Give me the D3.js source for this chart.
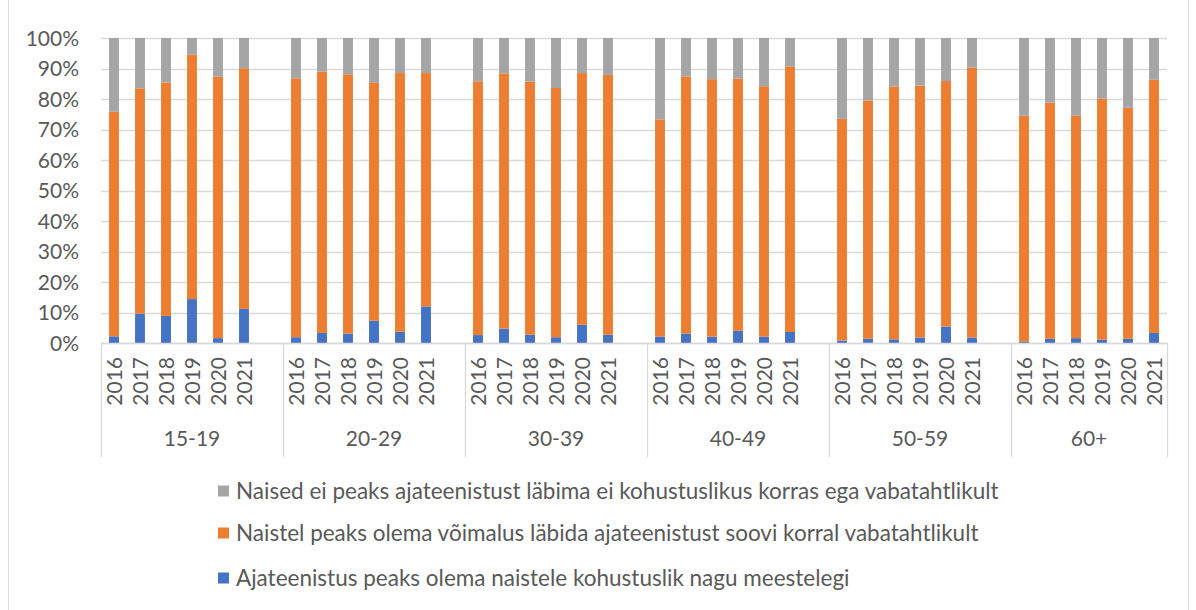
<!DOCTYPE html>
<html>
<head>
    <meta charset="utf-8">
    <script src="https://cdnjs.cloudflare.com/ajax/libs/d3/7.8.5/d3.min.js"></script>
    <style>
        body { margin: 0; background: #fff; }
        text { font-family: Lato, "Open Sans", sans-serif; fill: #595959; }
    </style>
</head>
<body>
    <div id="chart"></div>
    <script>
        // age groups and survey years
        const groups = ["15-19", "20-29", "30-39", "40-49", "50-59", "60+"];
        const years = ["2016", "2017", "2018", "2019", "2020", "2021"];
        const yTicks = [0, 0.1, 0.2, 0.3, 0.4, 0.5, 0.6, 0.7, 0.8, 0.9, 1];

        const seriesNames = [
            "Ajateenistus peaks olema naistele kohustuslik nagu meestelegi",
            "Naistel peaks olema võimalus läbida ajateenistust soovi korral vabatahtlikult",
            "Naised ei peaks ajateenistust läbima ei kohustuslikus korras ega vabatahtlikult"
        ];
        const colors = ["#4472C4", "#ED7D31", "#A5A5A5"];

        // % per group, years 2016..2021
        const compulsory = [
            2.2, 9.6, 8.9, 14.4, 1.6, 11.2,
            1.9, 3.3, 3.1, 7.3, 3.7, 12.0,
            2.6, 4.7, 2.7, 1.9, 6.0, 2.7,
            2.1, 3.1, 2.1, 4.0, 2.1, 3.6,
            0.8, 1.4, 1.2, 1.8, 5.4, 1.8,
            0.5, 1.4, 1.6, 1.1, 1.4, 3.3
        ];
        const voluntary = [
            73.6, 73.9, 76.5, 80.2, 85.8, 78.9,
            84.9, 85.7, 85.0, 78.0, 84.8, 76.5,
            83.2, 83.7, 83.0, 81.7, 82.5, 85.2,
            71.2, 84.3, 84.4, 82.7, 82.1, 87.1,
            72.7, 78.1, 82.9, 82.6, 80.5, 88.5,
            74.0, 77.4, 72.9, 79.1, 75.7, 83.0
        ];
        const against = [
            24.2, 16.5, 14.6, 5.4, 12.6, 9.9,
            13.2, 11.0, 11.9, 14.7, 11.5, 11.5,
            14.2, 11.6, 14.3, 16.4, 11.5, 12.1,
            26.7, 12.6, 13.5, 13.3, 15.8, 9.3,
            26.5, 20.5, 15.9, 15.6, 14.1, 9.7,
            25.5, 21.2, 25.5, 19.8, 22.9, 13.7
        ];

        const width = 1196, height = 610;
        const plotLeft = 101, plotRight = 1167, plotTop = 38, plotBottom = 343;

        const svg = d3.select("#chart").append("svg")
            .attr("width", width)
            .attr("height", height);

        // chart frame
        svg.append("rect")
            .attr("x", 8.5).attr("y", -1)
            .attr("width", 1180).attr("height", height + 2)
            .attr("fill", "none").attr("stroke", "#d9d9d9");

        // rows: one per bar, blank slot between groups
        const rows = [];
        const slots = [];
        groups.forEach((g, gi) => {
            years.forEach((yr, yi) => {
                const i = gi * years.length + yi;
                const key = g + "|" + yr;
                slots.push(key);
                rows.push({ key: key, group: g, year: yr, s0: compulsory[i], s1: voluntary[i], s2: against[i] });
            });
            if (gi < groups.length - 1) slots.push("gap" + gi);
        });

        const x = d3.scaleBand()
            .domain(slots)
            .range([plotLeft, plotRight])
            .paddingInner(0.62)
            .paddingOuter(0.31);

        const y = d3.scaleLinear().domain([0, 1]).range([plotBottom, plotTop]);

        // gridlines
        svg.append("g")
            .selectAll("line")
            .data(yTicks)
            .join("line")
            .attr("x1", plotLeft).attr("x2", plotRight)
            .attr("y1", d => Math.round(y(d)) + 0.5)
            .attr("y2", d => Math.round(y(d)) + 0.5)
            .attr("stroke", "#d9d9d9")
            .attr("stroke-width", 1.3);

        // y labels
        svg.append("g")
            .selectAll("text")
            .data(yTicks)
            .join("text")
            .attr("x", 79)
            .attr("y", d => y(d))
            .attr("dy", "0.36em")
            .attr("text-anchor", "end")
            .style("font-size", "21px")
            .text(d3.format(".0%"));

        // stacked bars
        const stack = d3.stack().keys(["s0", "s1", "s2"]);
        const layers = stack(rows);

        svg.append("g")
            .selectAll("g")
            .data(layers)
            .join("g")
            .attr("fill", (d, i) => colors[i])
            .selectAll("rect")
            .data(d => d)
            .join("rect")
            .attr("x", d => x(d.data.key))
            .attr("width", x.bandwidth())
            .attr("y", d => y(d[1] / 100))
            .attr("height", d => y(d[0] / 100) - y(d[1] / 100));

        // category axis
        const step = x.step();
        const axis = svg.append("g");
        axis.append("line")
            .attr("x1", plotLeft).attr("x2", plotRight)
            .attr("y1", plotBottom + 0.5).attr("y2", plotBottom + 0.5)
            .attr("stroke", "#d9d9d9").attr("stroke-width", 1.3);

        const groupEdges = groups.map(g => x(g + "|" + years[0]) - (step - x.bandwidth()) / 2);
        groupEdges.push(plotRight);

        axis.selectAll("line.sep")
            .data(groupEdges)
            .join("line")
            .attr("class", "sep")
            .attr("x1", d => Math.round(d) + 0.5).attr("x2", d => Math.round(d) + 0.5)
            .attr("y1", plotBottom).attr("y2", 457)
            .attr("stroke", "#d9d9d9").attr("stroke-width", 1.3);

        axis.selectAll("text.year")
            .data(rows)
            .join("text")
            .attr("class", "year")
            .attr("transform", d => `translate(${x(d.key) + x.bandwidth() / 2},357) rotate(-90)`)
            .attr("dy", "0.36em")
            .attr("text-anchor", "end")
            .style("font-size", "21px")
            .text(d => d.year);

        axis.selectAll("text.group")
            .data(groups)
            .join("text")
            .attr("class", "group")
            .attr("x", (g, gi) => (groupEdges[gi] + groupEdges[gi + 1]) / 2)
            .attr("y", 438)
            .attr("dy", "0.36em")
            .attr("text-anchor", "middle")
            .style("font-size", "21px")
            .text(d => d);

        // legend (reverse order, gray on top)
        const legendY = [491, 533, 578];
        const legend = svg.append("g")
            .selectAll("g")
            .data([2, 1, 0])
            .join("g")
            .attr("transform", (d, i) => `translate(218,${legendY[i]})`);

        legend.append("rect")
            .attr("x", 0).attr("y", -5.5)
            .attr("width", 11).attr("height", 11)
            .attr("fill", d => colors[d]);

        legend.append("text")
            .attr("x", 18)
            .attr("dy", "0.36em")
            .style("font-size", "22.5px")
            .text(d => seriesNames[d]);
    </script>
</body>
</html>
